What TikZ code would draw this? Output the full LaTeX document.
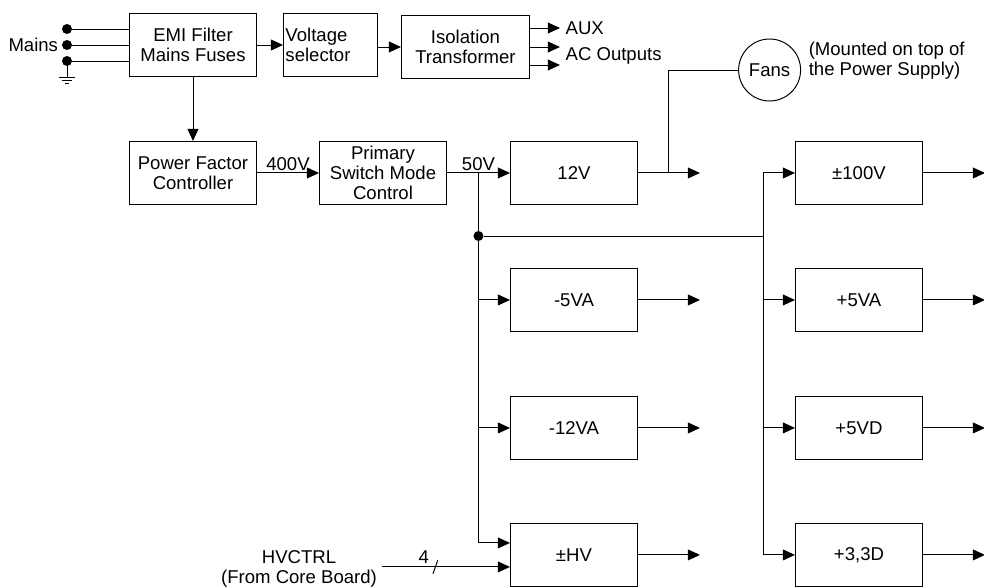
\documentclass[tikz,border=0pt]{standalone}
\usepackage{fontspec}
\setmainfont{Liberation Sans}
\usetikzlibrary{arrows.meta,positioning}
\tikzset{
  box/.style={draw,line width=0.7pt,minimum width=31.75mm,minimum height=15.75mm,align=center,inner sep=2pt,font=\fontsize{13.2}{14.4}\selectfont},
  fanbox/.style={circle,draw,line width=0.7pt,minimum size=15.5mm,inner sep=0pt,font=\fontsize{13.2}{14.4}\selectfont},
  lab/.style={font=\fontsize{13.2}{14.4}\selectfont,inner sep=1pt},
  wire/.style={draw,line width=0.7pt},
  arr/.style={wire,-{Triangle[length=3mm,width=2.7mm]}},
  dot/.style={circle,fill,inner sep=0pt,minimum size=2.5mm},
}
\begin{document}
\begin{tikzpicture}[node distance=15.75mm and 15.5mm]
  \useasboundingbox (0,0) rectangle (24.6,-14.7);
  \node[box] (emi) at (4.825,-1.125) {EMI Filter\\Mains Fuses};
  \node[box,minimum width=23.5mm,text width=22.5mm,align=left,inner sep=0.5mm,right=6.5mm of emi] (vsel) {Voltage\\selector};
  \node[box,minimum width=32mm,right=5.75mm of vsel,yshift=-0.5mm] (iso) {Isolation\\Transformer};
  \node[box,below=16mm of emi] (pfc) {Power Factor\\Controller};
  \node[box,right=of pfc] (psm) {Primary\\Switch Mode\\Control};
  \node[box,right=15.75mm of psm] (v12) {12V};
  \node[box,below=of v12] (m5va) {-5VA};
  \node[box,below=16mm of m5va] (m12va) {-12VA};
  \node[box,below=of m12va] (hv) {±HV};
  \node[box,right=39.25mm of v12] (pm100) {±100V};
  \node[box,below=of pm100] (p5va) {+5VA};
  \node[box,below=16mm of p5va] (p5vd) {+5VD};
  \node[box,below=of p5vd] (p33d) {+3,3D};
  \node[fanbox] (fans) at (19.24,-1.75) {Fans};
  \node[lab,align=left,right=1.5mm of fans,yshift=2.25mm] (note) {(Mounted on top of\\the Power Supply)};

  \node[dot] (m1) at (1.675,-0.725) {};
  \node[dot] (m2) at (1.675,-1.125) {};
  \node[dot] (m3) at (1.675,-1.525) {};
  \node[lab,left=0.5mm of m2] (mains) {Mains};
  \foreach \d in {m1,m2,m3} \draw[wire] (\d) -- (\d -| emi.west);
  \coordinate (gnd) at (1.675,-1.925);
  \draw[wire] (m3) -- (gnd);
  \draw[wire] ([xshift=-2mm]gnd) -- ([xshift=2mm]gnd);
  \draw[wire] ([xshift=-1.25mm,yshift=-0.75mm]gnd) -- ([xshift=1.25mm,yshift=-0.75mm]gnd);
  \draw[wire] ([xshift=-0.5mm,yshift=-1.5mm]gnd) -- ([xshift=0.5mm,yshift=-1.5mm]gnd);

  \draw[arr] (emi) -- (vsel);
  \draw[arr] (vsel.east |- iso.west) -- (iso.west);
  \foreach \s/\n in {4.75/a,0/b,-4.5/c} {
    \coordinate (iso-\n) at ([xshift=7.5mm,yshift=\s mm]iso.east);
    \draw[arr] ([yshift=\s mm]iso.east) -- (iso-\n);
  }
  \node[lab,anchor=west] (aux) at ([xshift=1mm]iso-a) {AUX};
  \node[lab,anchor=west] (acout) at ([xshift=1mm,yshift=-2.25mm]iso-b) {AC Outputs};

  \draw[arr] (emi) -- (pfc);
  \draw[arr] (pfc) -- node[lab,above] {400V} (psm);
  \draw[arr] (psm) -- node[lab,above] {50V} coordinate[pos=0.5] (j50) (v12);

  \coordinate (fj) at ([xshift=7.75mm]v12.east);
  \draw[wire] (fj) |- (fans);
  \foreach \b in {v12,m5va,m12va,hv,pm100,p5va,p5vd,p33d} {
    \coordinate (\b-out) at ([xshift=15.5mm]\b.east);
    \draw[arr] (\b) -- (\b-out);
  }

  \node[dot] (bd) at (j50 |- 0,-5.9) {};
  \draw[arr] (j50) |- ([yshift=3mm]hv.west);
  \foreach \b in {m5va,m12va} \draw[arr] (j50 |- \b.west) -- (\b);
  \coordinate (rbus) at ([xshift=-7.75mm]pm100.west);
  \draw[wire] (bd) -- (bd -| rbus);
  \draw[arr] (bd -| rbus) |- (pm100);
  \draw[arr] (bd -| rbus) |- (p33d);
  \foreach \b in {p5va,p5vd} \draw[arr] (rbus |- \b.west) -- (\b);

  \node[lab,align=center] (hvctrl) at (7.475,-14.225) {HVCTRL\\(From Core Board)};
  \coordinate (hvsrc) at ([yshift=-3mm]hv.west -| 9.55,0);
  \draw[arr] (hvsrc) -- coordinate[pos=0.417] (bw) ([yshift=-3mm]hv.west);
  \draw[wire] ([shift={(-0.06,-0.17)}]bw) -- ([shift={(0.06,0.17)}]bw);
  \node[lab] (nbits) at ([shift={(-0.29,0.24)}]bw) {4};
\end{tikzpicture}
\end{document}
